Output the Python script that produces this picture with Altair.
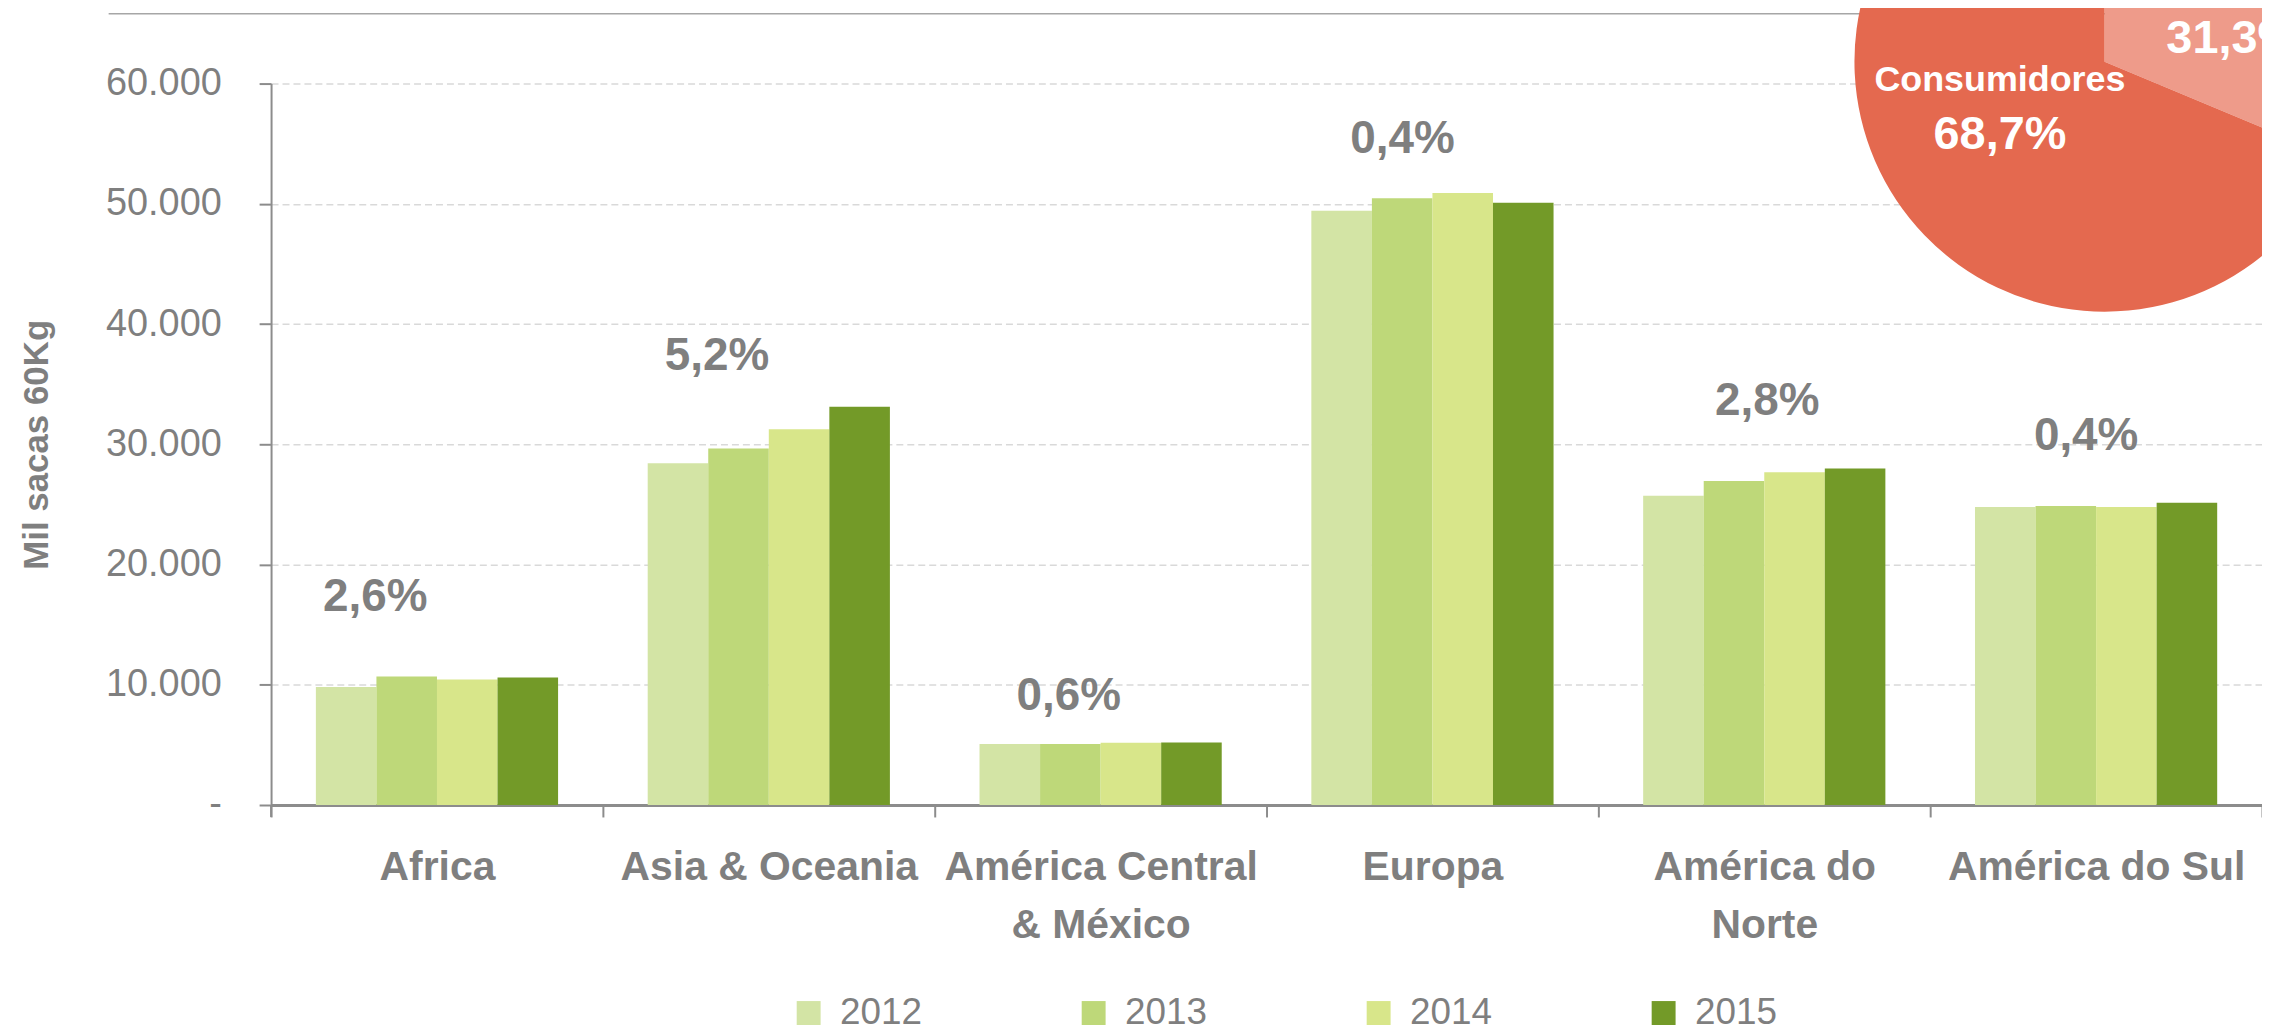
import altair as alt
import pandas as pd

# ---------------- data ----------------
categories = ["Africa", "Asia & Oceania", "América Central & México",
              "Europa", "América do Norte", "América do Sul"]
years = ["2012", "2013", "2014", "2015"]
v2012 = [9810, 28420, 5080, 49420, 25710, 24790]
v2013 = [10690, 29640, 5080, 50460, 26950, 24870]
v2014 = [10440, 31250, 5170, 50890, 27680, 24790]
v2015 = [10610, 33130, 5190, 50080, 27990, 25140]
growth_labels = ["2,6%", "5,2%", "0,6%", "0,4%", "2,8%", "0,4%"]
y_ticks = [0, 10000, 20000, 30000, 40000, 50000, 60000]

pie_groups = ["Produtores", "Consumidores"]
pie_shares = [31.3, 68.7]
pie_texts = ["31,3%", "68,7%"]

# ---------------- layout / style ----------------
W, H = 1998, 724
bar_colors = ["#D3E4A5", "#BED879", "#D8E68A", "#739A28"]
pie_colors = ["#EE9B8A", "#E4694F"]
gray = "#7F7F7F"
axis_gray = "#8C8C8C"
FONT = "Liberation Sans"
YTITLE = "Mil sacas 60Kg"
label_anchor = [17330, 37320, 9040, 55400, 33590, 30680]   # where growth labels sit (data units)
label_dx = [-62, -52, -32, -30, 3, -10]

rows = []
for i, c in enumerate(categories):
    for y, vals in zip(years, [v2012, v2013, v2014, v2015]):
        rows.append({"Região": c, "Ano": y, "Valor": vals[i]})
df = pd.DataFrame(rows)

xlabel_expr = ("datum.value == 'América Central & México' ? ['América Central', '& México'] : "
               "datum.value == 'América do Norte' ? ['América do', 'Norte'] : datum.label")
ylabel_expr = ("datum.value == 0 ? '-\u00a0\u00a0' : "
               "replace(format(datum.value, ','), ',', '.')")

xscale = alt.Scale(paddingInner=0, paddingOuter=0)
yscale = alt.Scale(domain=[0, 60000], nice=False)


def y_enc():
    return alt.Y("Valor:Q", scale=yscale, title=YTITLE, axis=alt.Axis(values=y_ticks))


def x_enc():
    return alt.X("Região:N", sort=categories, title=None, scale=xscale)


bars = alt.Chart(df).mark_bar().encode(
    x=x_enc(),
    xOffset=alt.XOffset("Ano:N", sort=years,
                        scale=alt.Scale(paddingInner=0, paddingOuter=0.74)),
    y=y_enc(),
    color=alt.Color("Ano:N", scale=alt.Scale(domain=years, range=bar_colors),
                    legend=alt.Legend(title=None, orient="none", legendX=521, legendY=914,
                                      direction="horizontal", symbolType="square",
                                      symbolSize=576, symbolStrokeWidth=0,
                                      labelFont=FONT, labelFontSize=37, labelColor=gray,
                                      labelOffset=13, columnPadding=153, padding=0)),
)

one = pd.DataFrame({"a": [0]})
top_rule = alt.Chart(one).mark_rule(color="#A6A6A6", strokeWidth=1.5).encode(
    x=alt.value(-163), x2=alt.value(W), y=alt.value(-70))
yaxis_ext = alt.Chart(one).mark_rule(color=axis_gray, strokeWidth=2).encode(
    x=alt.value(0), y=alt.value(H), y2=alt.value(H + 12))

label_layers = []
for i, c in enumerate(categories):
    ldf = pd.DataFrame({"Região": [c], "Valor": [label_anchor[i]], "t": [growth_labels[i]]})
    label_layers.append(
        alt.Chart(ldf).mark_text(font=FONT, fontSize=46, fontWeight="bold", color=gray,
                                 dx=label_dx[i], baseline="middle", align="center").encode(
            x=x_enc(), y=y_enc(), text="t:N")
    )

pie_df = pd.DataFrame({"grupo": pie_groups, "share": pie_shares, "idx": [0, 1]})
pie = alt.Chart(pie_df).mark_arc(radius=251).encode(
    theta=alt.Theta("share:Q", stack=True),
    order=alt.Order("idx:Q"),
    color=alt.Color("grupo:N", scale=alt.Scale(domain=pie_groups, range=pie_colors), legend=None),
    x=alt.value(1840), y=alt.value(-22),
)

pie_t1 = alt.Chart(one).mark_text(font=FONT, fontSize=36, fontWeight="bold", color="white",
                                  align="center", baseline="middle", text=pie_groups[1]).encode(
    x=alt.value(1735), y=alt.value(-4))
pie_t2 = alt.Chart(one).mark_text(font=FONT, fontSize=47, fontWeight="bold", color="white",
                                  align="center", baseline="middle", text=pie_texts[1]).encode(
    x=alt.value(1735), y=alt.value(52))
pie_t3 = alt.Chart(one).mark_text(font=FONT, fontSize=47, fontWeight="bold", color="white",
                                  align="left", baseline="middle", text=pie_texts[0]).encode(
    x=alt.value(1902), y=alt.value(-45))

chart = alt.layer(top_rule, yaxis_ext, bars, *label_layers, pie, pie_t1, pie_t2, pie_t3).resolve_scale(
    color="independent"
).properties(
    width=W, height=H,
    autosize=alt.AutoSizeParams(type="none"),
    padding={"left": 264, "top": 74, "right": 0, "bottom": 235},
    background="white",
).configure_view(stroke=None).configure_axisX(
    tickBand="extent", tickSize=12, tickColor=axis_gray, tickWidth=2,
    domainColor=axis_gray, domainWidth=3, labelAngle=0,
    labelFont=FONT, labelFontSize=41, labelFontWeight="bold",
    labelColor=gray, labelPadding=31, labelLineHeight=58,
    labelLimit=500, labelExpr=xlabel_expr, grid=False,
).configure_axisY(
    titleFont=FONT, titleFontSize=35,
    titleFontWeight="bold", titleColor=gray, titleAngle=270,
    titleX=-235, titleY=H / 2, titleAlign="center", titleBaseline="middle",
    labelExpr=ylabel_expr, labelOverlap=False,
    labelFont=FONT, labelFontSize=38, labelColor=gray,
    labelPadding=38, tickSize=12, tickColor=axis_gray, tickWidth=2,
    domainColor=axis_gray, domainWidth=2,
    grid=True, gridColor="#D9D9D9", gridDash=[7, 4], gridWidth=1.5,
)

chart.save("out.html", embed_options={"renderer": "svg", "actions": False})
